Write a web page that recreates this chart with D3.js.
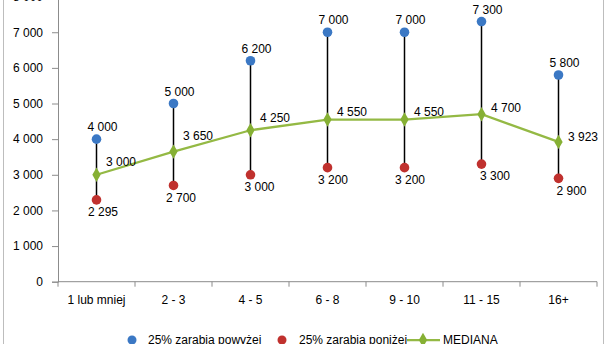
<!DOCTYPE html>
<html>
<head>
<meta charset="utf-8">
<script src="https://cdn.jsdelivr.net/npm/d3@7/dist/d3.min.js"></script>
<style>
  html, body { margin: 0; padding: 0; background: #fff; }
  svg { display: block; font-family: "Liberation Sans", Arial, sans-serif; }
</style>
</head>
<body>
<svg id="chart" width="611" height="344"></svg>
<script>
// Wynagrodzenia wg stażu pracy (lata)
const categories = ["1 lub mniej", "2 - 3", "4 - 5", "6 - 8", "9 - 10", "11 - 15", "16+"];
const upperQuartile = [4000, 5000, 6200, 7000, 7000, 7300, 5800];
const lowerQuartile = [2295, 2700, 3000, 3200, 3200, 3300, 2900];
const median = [3000, 3650, 4250, 4550, 4550, 4700, 3923];
const yTicks = [0, 1000, 2000, 3000, 4000, 5000, 6000, 7000, 8000];
const seriesNames = ["25% zarabia powyżej", "25% zarabia poniżej", "MEDIANA"];

// label nudges (px) for the median values, placed to the right of each marker
const medianLabelLift = [-13, -16, -12.5, -8, -8, -6.5, -5];
const lowerLabelShift = [6.5, 7.5, 9, 5.5, 5.5, 13.5, 13];

const colors = { upper: "#3b78c4", lower: "#c0312e", median: "#94b944", medianMarker: "#86b034", axis: "#8c8c8c" };

const svg = d3.select("#chart");
const fmt = v => d3.format(",")(v).replace(/,/g, " ");

// outer chart frame
svg.append("rect")
  .attr("x", 3.5).attr("y", -10).attr("width", 600).attr("height", 380)
  .attr("fill", "none").attr("stroke", "#bdbdbd").attr("stroke-width", 1);

const plot = { left: 58, right: 597, top: -3.4, bottom: 281.7 };

const x = d3.scaleBand().domain(categories).range([plot.left, plot.right]);
const y = d3.scaleLinear().domain([0, 8000]).range([plot.bottom, plot.top]);
const cx = c => x(c) + x.bandwidth() / 2;

// Y axis
const yAxis = svg.append("g")
  .attr("transform", `translate(${plot.left},0)`)
  .call(d3.axisLeft(y).tickValues(yTicks).tickFormat(fmt).tickSize(6).tickPadding(9));
yAxis.select(".domain").attr("stroke", colors.axis);
yAxis.selectAll(".tick line").attr("stroke", colors.axis);
yAxis.selectAll(".tick text").attr("fill", "#000").style("font-size", "12px");

// X axis with ticks at category boundaries
const xAxisG = svg.append("g").attr("transform", `translate(0,${plot.bottom})`);
xAxisG.append("line")
  .attr("x1", plot.left).attr("x2", plot.right)
  .attr("stroke", colors.axis);
const boundaries = categories.map(c => x(c)).concat([x(categories[categories.length - 1]) + x.bandwidth()]);
xAxisG.selectAll("line.tk").data(boundaries).enter().append("line")
  .attr("class", "tk")
  .attr("x1", d => d).attr("x2", d => d).attr("y1", 0).attr("y2", 5)
  .attr("stroke", colors.axis);
xAxisG.selectAll("text").data(categories).enter().append("text")
  .attr("x", d => cx(d)).attr("y", 22)
  .attr("text-anchor", "middle").style("font-size", "12px").attr("fill", "#000")
  .text(d => d);

// high-low lines between quartiles
svg.append("g").selectAll("line").data(categories).enter().append("line")
  .attr("x1", d => cx(d)).attr("x2", d => cx(d))
  .attr("y1", (d, i) => y(upperQuartile[i])).attr("y2", (d, i) => y(lowerQuartile[i]))
  .attr("stroke", "#000").attr("stroke-width", 1.5);

// median line
const line = d3.line().x((d, i) => cx(categories[i])).y(d => y(d));
svg.append("path").datum(median)
  .attr("d", line).attr("fill", "none")
  .attr("stroke", colors.median).attr("stroke-width", 2.25);

const diamond = d3.symbol().type(d3.symbolDiamond).size(60);
svg.append("g").selectAll("path").data(median).enter().append("path")
  .attr("d", diamond)
  .attr("transform", (d, i) => `translate(${cx(categories[i])},${y(d)})`)
  .attr("fill", colors.medianMarker);

// quartile points
svg.append("g").selectAll("circle").data(upperQuartile).enter().append("circle")
  .attr("cx", (d, i) => cx(categories[i])).attr("cy", d => y(d)).attr("r", 4.8)
  .attr("fill", colors.upper);
svg.append("g").selectAll("circle").data(lowerQuartile).enter().append("circle")
  .attr("cx", (d, i) => cx(categories[i])).attr("cy", d => y(d)).attr("r", 4.8)
  .attr("fill", colors.lower);

// value labels
const labels = svg.append("g").style("font-size", "12px").attr("fill", "#000");
labels.selectAll("text.up").data(upperQuartile).enter().append("text")
  .attr("class", "up")
  .attr("x", (d, i) => cx(categories[i]) + 6).attr("y", d => y(d) - 12)
  .attr("dy", "0.35em").attr("text-anchor", "middle")
  .text(fmt);
labels.selectAll("text.low").data(lowerQuartile).enter().append("text")
  .attr("class", "low")
  .attr("x", (d, i) => cx(categories[i]) + lowerLabelShift[i]).attr("y", d => y(d) + 12)
  .attr("dy", "0.35em").attr("text-anchor", "middle")
  .text(fmt);
labels.selectAll("text.med").data(median).enter().append("text")
  .attr("class", "med")
  .attr("x", (d, i) => cx(categories[i]) + 9.5).attr("y", (d, i) => y(d) + medianLabelLift[i])
  .attr("dy", "0.35em").attr("text-anchor", "start")
  .text(fmt);

// legend
const legend = svg.append("g").style("font-size", "12px").attr("fill", "#000");
const ly = 340;
legend.append("circle").attr("cx", 132).attr("cy", ly).attr("r", 4.5).attr("fill", colors.upper);
legend.append("text").attr("x", 148).attr("y", ly).attr("dy", "0.35em").text(seriesNames[0]);
legend.append("circle").attr("cx", 282).attr("cy", ly).attr("r", 4.5).attr("fill", colors.lower);
legend.append("text").attr("x", 299).attr("y", ly).attr("dy", "0.35em").text(seriesNames[1]);
legend.append("line").attr("x1", 407).attr("x2", 440).attr("y1", ly).attr("y2", ly)
  .attr("stroke", colors.median).attr("stroke-width", 2.25);
legend.append("path").attr("d", diamond).attr("transform", `translate(423,${ly})`).attr("fill", colors.medianMarker);
legend.append("text").attr("x", 443).attr("y", ly).attr("dy", "0.35em").text(seriesNames[2]);
</script>
</body>
</html>
